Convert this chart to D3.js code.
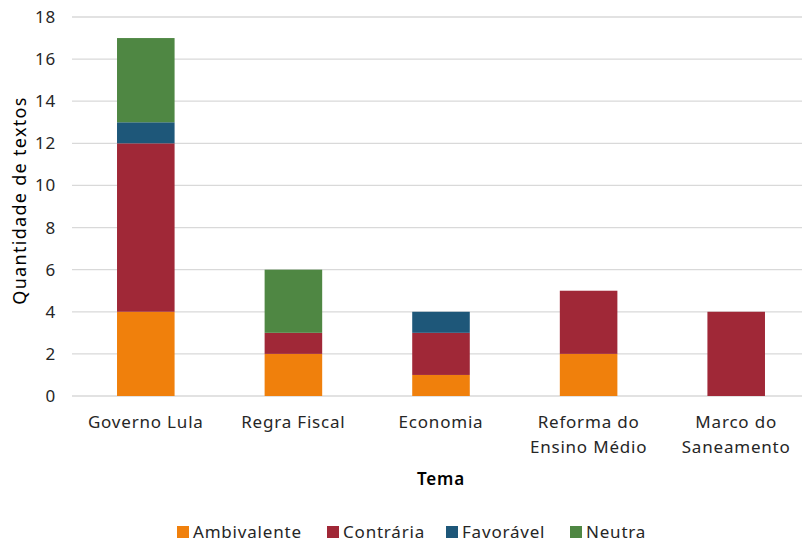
<!DOCTYPE html>
<html>
<head>
<meta charset="utf-8">
<script src="https://cdn.jsdelivr.net/npm/d3@7"></script>
<style>
  body { margin: 0; background: #fff; }
  svg { font-family: "Noto Sans", "Lato", sans-serif; letter-spacing: 0.8px; }
</style>
</head>
<body>
<div id="chart"></div>
<script>
// data
const temas = ['Governo Lula', 'Regra Fiscal', 'Economia', 'Reforma do Ensino Médio', 'Marco do Saneamento'];
const temaLines = [['Governo Lula'], ['Regra Fiscal'], ['Economia'], ['Reforma do', 'Ensino Médio'], ['Marco do', 'Saneamento']];
const series = ['Ambivalente', 'Contrária', 'Favorável', 'Neutra'];
const ambivalente = [4, 2, 1, 2, 0];
const contraria = [8, 1, 2, 3, 4];
const favoravel = [1, 0, 1, 0, 0];
const neutra = [4, 3, 0, 0, 0];
const yTicks = [0, 2, 4, 6, 8, 10, 12, 14, 16, 18];
const colors = ['#F0800C', '#A02837', '#1E5779', '#4F8743'];

const rows = temas.map((t, i) => ({
  tema: t,
  'Ambivalente': ambivalente[i],
  'Contrária': contraria[i],
  'Favorável': favoravel[i],
  'Neutra': neutra[i]
}));

const W = 802, H = 545;
const margin = {top: 17, right: -8, bottom: 149, left: 72};
const width = W - margin.left - margin.right,
      height = H - margin.top - margin.bottom;

const svg = d3.select('#chart').append('svg')
  .attr('width', W).attr('height', H);

const g = svg.append('g')
  .attr('transform', `translate(${margin.left},${margin.top})`);

const x = d3.scaleBand()
  .domain(temas)
  .range([0, width])
  .paddingInner(0.61)
  .paddingOuter(0.305);

const y = d3.scaleLinear()
  .domain([0, 18])
  .range([height, 0]);

const color = d3.scaleOrdinal().domain(series).range(colors);

// gridlines
g.append('g')
  .selectAll('line')
  .data(yTicks)
  .join('line')
    .attr('x1', 0).attr('x2', width)
    .attr('y1', d => y(d)).attr('y2', d => y(d))
    .attr('stroke', '#d9d9d9')
    .attr('stroke-width', 1.3);

// y axis labels
const yAxis = g.append('g')
  .call(d3.axisLeft(y).tickValues(yTicks).tickSize(0).tickPadding(16));
yAxis.select('.domain').remove();
yAxis.selectAll('text')
  .attr('font-size', 17).attr('fill', '#262626')
  .attr('font-family', '"Noto Sans", "Lato", sans-serif');

// bars
const stacked = d3.stack().keys(series)(rows);
g.append('g')
  .selectAll('g')
  .data(stacked)
  .join('g')
    .attr('fill', d => color(d.key))
  .selectAll('rect')
  .data(d => d.filter(p => p[1] > p[0]))
  .join('rect')
    .attr('x', d => x(d.data.tema))
    .attr('y', d => y(d[1]))
    .attr('width', x.bandwidth())
    .attr('height', d => y(d[0]) - y(d[1]));

// x labels
const xl = g.append('g')
  .selectAll('text')
  .data(temas)
  .join('text')
    .attr('x', d => x(d) + x.bandwidth() / 2)
    .attr('y', height + 32)
    .attr('text-anchor', 'middle')
    .attr('font-size', 17)
    .attr('fill', '#262626');
xl.each(function(d, i) {
  const t = d3.select(this);
  temaLines[i].forEach((line, j) => {
    t.append('tspan')
      .attr('x', x(d) + x.bandwidth() / 2)
      .attr('dy', j === 0 ? 0 : 25)
      .text(line);
  });
});

// axis titles
svg.append('text')
  .attr('x', 441).attr('y', 485)
  .attr('text-anchor', 'middle')
  .attr('font-size', 17).attr('font-weight', 600)
  .attr('fill', '#000')
  .text('Tema');

svg.append('text')
  .attr('transform', `translate(26,${margin.top + height / 2 - 6}) rotate(-90)`)
  .attr('text-anchor', 'middle')
  .attr('font-size', 18)
  .attr('letter-spacing', '1.3px')
  .attr('fill', '#000')
  .text('Quantidade de textos');

// legend
const legendX = [177, 327, 446, 570];
const legend = svg.append('g')
  .selectAll('g')
  .data(series)
  .join('g')
    .attr('transform', (d, i) => `translate(${legendX[i]},532)`);
legend.append('rect')
  .attr('x', 0).attr('y', -6)
  .attr('width', 12).attr('height', 12)
  .attr('fill', d => color(d));
legend.append('text')
  .attr('x', 16).attr('y', 6)
  .attr('font-size', 17).attr('fill', '#262626')
  .text(d => d);
</script>
</body>
</html>
